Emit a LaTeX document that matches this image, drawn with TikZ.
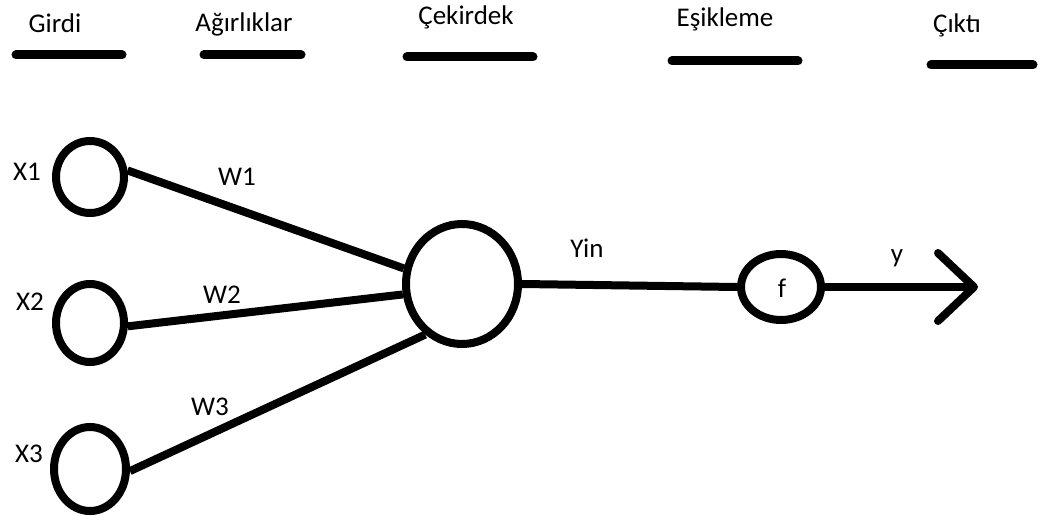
\documentclass[tikz,border=0pt]{standalone}
\usepackage{fontspec}
\setmainfont{Carlito}
\usetikzlibrary{shapes.geometric,arrows.meta}

\tikzstyle{every node}=[font=\fontsize{27}{32}\selectfont]
\tikzstyle{unit}=[draw, ellipse, line width=8pt, inner sep=0pt]
\tikzstyle{word}=[anchor=base, inner sep=1pt]
\tikzstyle{bar}=[line width=9pt, line cap=round]
\tikzstyle{wire}=[line width=8pt]

\begin{document}
\begin{tikzpicture}[x=1pt, y=-1pt, >={Straight Barb[length=36pt, width=68pt, round]}]
    \useasboundingbox (0, 0) rectangle (1043, 516);

    % column titles
    \node[word] (girdi) at (55, 33) {Girdi};
    \node[word] (agirlik) at (244, 32) {Ağırlıklar};
    \node[word] (cekirdek) at (466, 25) {Çekirdek};
    \node[word] (esik) at (725, 27) {Eşikleme};
    \node[word] (cikti) at (957, 33) {Çıktı};
    \draw[bar] (16, 55) -- (122, 55);
    \draw[bar] (204, 55) -- (301, 55);
    \draw[bar] (407, 57) -- (533, 57);
    \draw[bar] (672, 61) -- (798, 61);
    \draw[bar] (931, 65) -- (1033, 65);

    % inputs
    \node[unit, minimum width=68pt, minimum height=72pt] (x1) at (90, 177) {};
    \node[unit, minimum width=68pt, minimum height=78pt] (x2) at (90, 323) {};
    \node[unit, minimum width=72pt, minimum height=84pt] (x3) at (90, 469) {};
    \node[word] (lx1) at (27, 180) {X1};
    \node[word] (lx2) at (30, 310) {X2};
    \node[word] (lx3) at (29, 462) {X3};

    % core and threshold
    \node[unit, minimum width=112pt, minimum height=120pt] (core) at (462, 284) {};
    \node[unit, minimum width=80pt, minimum height=66pt] (f) at (781, 287) {};
    \node[word] (lf) at (782, 297) {f};
    \coordinate (out) at (978, 287);

    \draw[wire] (x1.10) -- (core.165);
    \draw[wire] (x2.-5) -- (core.190);
    \draw[wire] (x3.-3) -- (core.234);
    \draw[wire] (core.east) -- (f.west);
    \draw[wire, ->] (f.east) -- (out);

    \node[word] (w1) at (237, 185) {W1};
    \node[word] (w2) at (222, 303) {W2};
    \node[word] (w3) at (210, 415) {W3};
    \node[word] (yin) at (587, 257) {Yin};
    \node[word] (y) at (897, 262) {y};
\end{tikzpicture}
\end{document}
